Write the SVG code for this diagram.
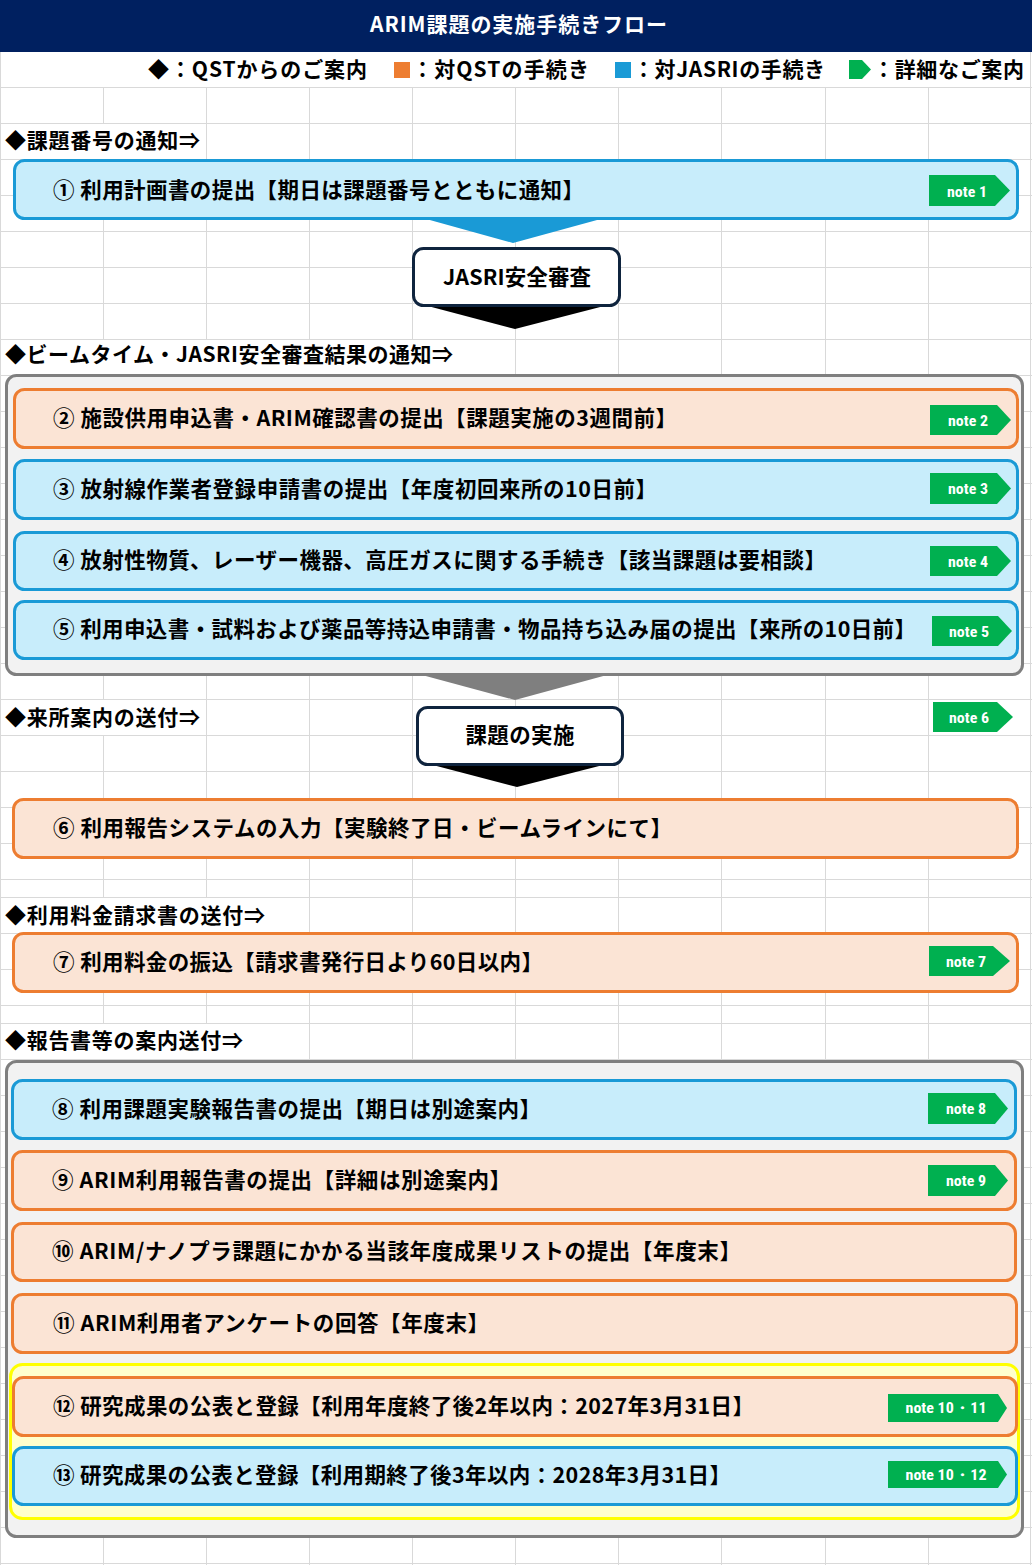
<svg xmlns="http://www.w3.org/2000/svg" width="1032" height="1565" viewBox="0 0 1032 1565">
<style>
.jp{font-family:"Noto Sans CJK JP","Noto Sans",sans-serif;font-weight:700;fill:#000}
.bx{font-size:21.5px}
.sec{font-size:21px}
.lg{font-size:21px}
.blue{fill:#c8edfb;stroke:#1a9ad6;stroke-width:3}
.orange{fill:#fbe4d5;stroke:#ed7d31;stroke-width:3}
.grayc{fill:#f2f2f2;stroke:#7f7f7f;stroke-width:3}
.yel{fill:#ffffcc;stroke:#ffff00;stroke-width:3}
.step{fill:#ffffff;stroke:#0f243e;stroke-width:3}
.tag{fill:#00b050}
.tt{font-family:"Liberation Sans Narrow","Roboto Condensed","Liberation Sans",sans-serif;font-weight:700;font-size:14.5px;fill:#ffffff;text-anchor:middle}
.grid{stroke:#d9d9d9;stroke-width:1;fill:none}
</style>
<rect x="0" y="0" width="1032" height="1565" fill="#ffffff"/>
<g id="grid">
<path class="grid" d="M0,87.5H1032M0,123.5H1032M0,159.5H1032M0,195.5H1032M0,231.5H1032M0,267.5H1032M0,303.5H1032M0,339.5H1032M0,375.5H1032M0,411.5H1032M0,447.5H1032M0,483.5H1032M0,519.5H1032M0,555.5H1032M0,591.5H1032M0,627.5H1032M0,663.5H1032M0,699.5H1032M0,735.5H1032M0,771.5H1032M0,807.5H1032M0,843.5H1032M0,879.5H1032M0,897.5H1032M0,933.5H1032M0,969.5H1032M0,1005.5H1032M0,1023.5H1032M0,1059.5H1032M0,1095.5H1032M0,1131.5H1032M0,1167.5H1032M0,1203.5H1032M0,1239.5H1032M0,1275.5H1032M0,1311.5H1032M0,1347.5H1032M0,1383.5H1032M0,1419.5H1032M0,1455.5H1032M0,1491.5H1032M0,1527.5H1032M0,1563.5H1032"/>
<path class="grid" d="M0.5,52V1565M103.5,87V1565M206.5,87V1565M309.5,87V1565M412.5,87V1565M515.5,87V1565M618.5,87V1565M721.5,87V1565M825.5,87V1565M928.5,87V1565M1030.5,52V1565"/>
<rect x="1" y="124" width="205" height="35" fill="#ffffff"/>
<rect x="1" y="340" width="514" height="35" fill="#ffffff"/>
<rect x="1" y="700" width="205" height="35" fill="#ffffff"/>
<rect x="1" y="898" width="308" height="35" fill="#ffffff"/>
<rect x="1" y="1024" width="308" height="35" fill="#ffffff"/>
</g>
<g id="header">
<rect x="0" y="0" width="1032" height="52" fill="#002060"/>
<text x="370" y="32" class="jp" style="fill:#ffffff;font-size:21px" textLength="297" lengthAdjust="spacing">ARIM課題の実施手続きフロー</text>
</g>
<g id="legend">
<text x="148" y="77" class="jp lg" textLength="219" lengthAdjust="spacing">◆：QSTからのご案内</text>
<rect x="394" y="62" width="16" height="16" fill="#ed7d31"/>
<text x="412" y="77" class="jp lg" textLength="177" lengthAdjust="spacing">：対QSTの手続き</text>
<rect x="615" y="62" width="16" height="16" fill="#1a9ad6"/>
<text x="633" y="77" class="jp lg" textLength="192" lengthAdjust="spacing">：対JASRIの手続き</text>
<polygon class="tag" points="849,60 862,60 871,69.5 862,79 849,79"/>
<text x="873" y="77" class="jp lg" textLength="151" lengthAdjust="spacing">：詳細なご案内</text>
</g>
<g id="section-labels">
<text x="5" y="148" class="jp sec" textLength="195" lengthAdjust="spacing">◆課題番号の通知⇒</text>
<text x="5" y="362" class="jp sec" textLength="448" lengthAdjust="spacing">◆ビームタイム・JASRI安全審査結果の通知⇒</text>
<text x="5" y="725" class="jp sec" textLength="195" lengthAdjust="spacing">◆来所案内の送付⇒</text>
<text x="5" y="923" class="jp sec" textLength="260" lengthAdjust="spacing">◆利用料金請求書の送付⇒</text>
<text x="5" y="1048" class="jp sec" textLength="238" lengthAdjust="spacing">◆報告書等の案内送付⇒</text>
</g>
<g id="container-1">
<rect class="grayc" x="6.5" y="375.5" width="1016" height="299" rx="10"/>
</g>
<g id="container-2">
<rect class="grayc" x="6.5" y="1061.5" width="1016" height="475" rx="10"/>
</g>
<g id="container-yellow">
<rect class="yel" x="10.5" y="1364.5" width="1008" height="154" rx="12"/>
</g>
<g id="connectors">
<polygon points="419,217 608,217 513,243" fill="#1a9ad6"/>
<polygon points="424,305 608,305 515,329" fill="#000000"/>
<polygon points="422,675 607,675 515,700" fill="#7f7f7f"/>
<polygon points="429,764 607,764 517,787" fill="#000000"/>
</g>
<g id="step-1">
<rect class="blue" x="14.5" y="160.5" width="1003" height="58" rx="10"/>
<text x="53" y="198" class="jp bx" textLength="531" lengthAdjust="spacing">① 利用計画書の提出【期日は課題番号とともに通知】</text>
<polygon class="tag" points="929,175 995,175 1010,190.5 995,206 929,206"/>
<text x="967" y="196.5" class="tt" textLength="40" lengthAdjust="spacingAndGlyphs">note 1</text>
</g>
<g id="jasri-review">
<rect class="step" x="413.5" y="248.5" width="206" height="57" rx="10"/>
<text x="517" y="285" class="jp" style="font-size:21.5px;text-anchor:middle" textLength="148" lengthAdjust="spacing">JASRI安全審査</text>
</g>
<g id="step-2">
<rect class="orange" x="14.5" y="389.5" width="1003" height="58" rx="10"/>
<text x="53" y="426" class="jp bx" textLength="624" lengthAdjust="spacing">② 施設供用申込書・ARIM確認書の提出【課題実施の3週間前】</text>
<polygon class="tag" points="930,405 997,405 1011,420 997,435 930,435"/>
<text x="968" y="425.5" class="tt" textLength="40" lengthAdjust="spacingAndGlyphs">note 2</text>
</g>
<g id="step-3">
<rect class="blue" x="14.5" y="460.5" width="1003" height="58" rx="10"/>
<text x="53" y="497" class="jp bx" textLength="604" lengthAdjust="spacing">③ 放射線作業者登録申請書の提出【年度初回来所の10日前】</text>
<polygon class="tag" points="930,473 997,473 1011,488.5 997,504 930,504"/>
<text x="968" y="494" class="tt" textLength="40" lengthAdjust="spacingAndGlyphs">note 3</text>
</g>
<g id="step-4">
<rect class="blue" x="14.5" y="532.5" width="1003" height="57" rx="10"/>
<text x="53" y="568" class="jp bx" textLength="773" lengthAdjust="spacing">④ 放射性物質、レーザー機器、高圧ガスに関する手続き【該当課題は要相談】</text>
<polygon class="tag" points="930,546 997,546 1011,561 997,576 930,576"/>
<text x="968" y="566.5" class="tt" textLength="40" lengthAdjust="spacingAndGlyphs">note 4</text>
</g>
<g id="step-5">
<rect class="blue" x="14.5" y="601.5" width="1003" height="57" rx="10"/>
<text x="53" y="637" class="jp bx" textLength="863" lengthAdjust="spacing">⑤ 利用申込書・試料および薬品等持込申請書・物品持ち込み届の提出【来所の10日前】</text>
<polygon class="tag" points="932,616 998,616 1012,631 998,646 932,646"/>
<text x="969" y="636.5" class="tt" textLength="40" lengthAdjust="spacingAndGlyphs">note 5</text>
</g>
<g id="note-6">
<polygon class="tag" points="933,702 997,702 1013,717 997,732 933,732"/>
<text x="969" y="722.5" class="tt" textLength="40" lengthAdjust="spacingAndGlyphs">note 6</text>
</g>
<g id="execution">
<rect class="step" x="417.5" y="707.5" width="205" height="57" rx="10"/>
<text x="520" y="743" class="jp" style="font-size:21.5px;text-anchor:middle" textLength="109" lengthAdjust="spacing">課題の実施</text>
</g>
<g id="step-6">
<rect class="orange" x="13.5" y="799.5" width="1004" height="58" rx="10"/>
<text x="53" y="836" class="jp bx" textLength="619" lengthAdjust="spacing">⑥ 利用報告システムの入力【実験終了日・ビームラインにて】</text>
</g>
<g id="step-7">
<rect class="orange" x="13.5" y="933.5" width="1004" height="58" rx="10"/>
<text x="53" y="970" class="jp bx" textLength="490" lengthAdjust="spacing">⑦ 利用料金の振込【請求書発行日より60日以内】</text>
<polygon class="tag" points="929,946 993,946 1010,961 993,976 929,976"/>
<text x="966" y="966.5" class="tt" textLength="40" lengthAdjust="spacingAndGlyphs">note 7</text>
</g>
<g id="step-8">
<rect class="blue" x="12.5" y="1080.5" width="1003" height="58" rx="10"/>
<text x="52" y="1117" class="jp bx" textLength="489" lengthAdjust="spacing">⑧ 利用課題実験報告書の提出【期日は別途案内】</text>
<polygon class="tag" points="928,1093 995,1093 1008,1108.5 995,1124 928,1124"/>
<text x="966" y="1114" class="tt" textLength="40" lengthAdjust="spacingAndGlyphs">note 8</text>
</g>
<g id="step-9">
<rect class="orange" x="12.5" y="1151.5" width="1003" height="58" rx="10"/>
<text x="52" y="1188" class="jp bx" textLength="459" lengthAdjust="spacing">⑨ ARIM利用報告書の提出【詳細は別途案内】</text>
<polygon class="tag" points="928,1165 995,1165 1008,1180.5 995,1196 928,1196"/>
<text x="966" y="1186" class="tt" textLength="40" lengthAdjust="spacingAndGlyphs">note 9</text>
</g>
<g id="step-10">
<rect class="orange" x="12.5" y="1223.5" width="1003" height="57" rx="10"/>
<text x="52" y="1259" class="jp bx" textLength="689" lengthAdjust="spacing">⑩ ARIM/ナノプラ課題にかかる当該年度成果リストの提出【年度末】</text>
</g>
<g id="step-11">
<rect class="orange" x="12.5" y="1294.5" width="1004" height="58" rx="10"/>
<text x="53" y="1331" class="jp bx" textLength="436" lengthAdjust="spacing">⑪ ARIM利用者アンケートの回答【年度末】</text>
</g>
<g id="step-12">
<rect class="orange" x="13.5" y="1377.5" width="1003" height="58" rx="10"/>
<text x="53" y="1414" class="jp bx" textLength="701" lengthAdjust="spacing">⑫ 研究成果の公表と登録【利用年度終了後2年以内：2027年3月31日】</text>
<polygon class="tag" points="888,1394 998,1394 1007,1408 998,1422 888,1422"/>
<text x="946" y="1413" class="tt" textLength="81" lengthAdjust="spacingAndGlyphs">note 10・11</text>
</g>
<g id="step-13">
<rect class="blue" x="13.5" y="1447.5" width="1003" height="57" rx="10"/>
<text x="53" y="1483" class="jp bx" textLength="678" lengthAdjust="spacing">⑬ 研究成果の公表と登録【利用期終了後3年以内：2028年3月31日】</text>
<polygon class="tag" points="888,1461 998,1461 1007,1474.5 998,1488 888,1488"/>
<text x="946" y="1480" class="tt" textLength="81" lengthAdjust="spacingAndGlyphs">note 10・12</text>
</g>
</svg>
